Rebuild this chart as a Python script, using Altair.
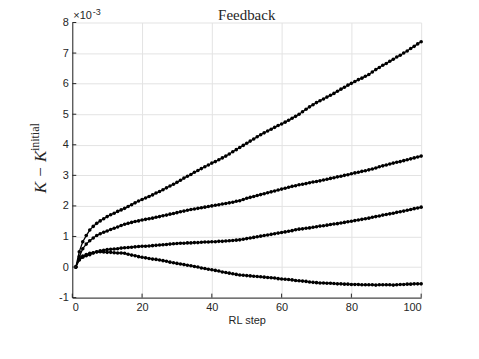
import altair as alt
import pandas as pd

steps = list(range(1, 101))

curve_a = [0.00, 0.50, 0.83, 1.03, 1.21, 1.33, 1.43, 1.51, 1.58, 1.65,
           1.71, 1.76, 1.82, 1.87, 1.92, 1.98, 2.04, 2.10, 2.16, 2.21,
           2.26, 2.31, 2.36, 2.42, 2.47, 2.53, 2.59, 2.65, 2.71, 2.77,
           2.84, 2.91, 2.97, 3.03, 3.10, 3.16, 3.22, 3.28, 3.34, 3.40,
           3.45, 3.51, 3.57, 3.63, 3.70, 3.77, 3.84, 3.91, 3.98, 4.05,
           4.12, 4.19, 4.26, 4.33, 4.39, 4.45, 4.51, 4.57, 4.63, 4.68,
           4.74, 4.80, 4.87, 4.93, 5.00, 5.08, 5.16, 5.24, 5.31, 5.38,
           5.44, 5.50, 5.56, 5.62, 5.68, 5.75, 5.82, 5.88, 5.95, 6.01,
           6.07, 6.13, 6.18, 6.24, 6.30, 6.38, 6.46, 6.53, 6.60, 6.66,
           6.73, 6.80, 6.87, 6.93, 7.00, 7.07, 7.15, 7.22, 7.30, 7.37]

curve_b = [0.00, 0.34, 0.60, 0.75, 0.86, 0.95, 1.03, 1.09, 1.14, 1.18,
           1.23, 1.27, 1.31, 1.36, 1.40, 1.43, 1.46, 1.49, 1.51, 1.54,
           1.56, 1.58, 1.60, 1.63, 1.65, 1.68, 1.70, 1.73, 1.75, 1.78,
           1.81, 1.83, 1.86, 1.88, 1.90, 1.92, 1.94, 1.96, 1.98, 2.00,
           2.02, 2.04, 2.06, 2.08, 2.10, 2.12, 2.15, 2.17, 2.21, 2.25,
           2.28, 2.31, 2.34, 2.37, 2.40, 2.43, 2.46, 2.49, 2.52, 2.55,
           2.58, 2.61, 2.64, 2.66, 2.69, 2.71, 2.73, 2.76, 2.78, 2.80,
           2.82, 2.85, 2.87, 2.90, 2.92, 2.95, 2.97, 3.00, 3.02, 3.05,
           3.08, 3.10, 3.13, 3.15, 3.18, 3.21, 3.24, 3.28, 3.31, 3.34,
           3.37, 3.40, 3.43, 3.45, 3.48, 3.51, 3.54, 3.57, 3.60, 3.63]

curve_c = [0.00, 0.23, 0.32, 0.37, 0.40, 0.46, 0.50, 0.53, 0.55, 0.57,
           0.58, 0.59, 0.60, 0.62, 0.63, 0.64, 0.65, 0.66, 0.67, 0.68,
           0.68, 0.69, 0.70, 0.71, 0.72, 0.73, 0.74, 0.75, 0.76, 0.77,
           0.78, 0.78, 0.79, 0.79, 0.80, 0.80, 0.81, 0.82, 0.82, 0.83,
           0.83, 0.84, 0.84, 0.85, 0.86, 0.87, 0.88, 0.89, 0.91, 0.93,
           0.95, 0.97, 0.99, 1.01, 1.03, 1.05, 1.07, 1.09, 1.11, 1.13,
           1.15, 1.17, 1.19, 1.22, 1.24, 1.25, 1.27, 1.28, 1.30, 1.32,
           1.34, 1.35, 1.37, 1.39, 1.41, 1.42, 1.44, 1.46, 1.48, 1.50,
           1.52, 1.54, 1.56, 1.58, 1.60, 1.63, 1.65, 1.67, 1.70, 1.72,
           1.74, 1.76, 1.79, 1.81, 1.83, 1.86, 1.88, 1.91, 1.93, 1.96]

curve_d = [0.00, 0.25, 0.36, 0.41, 0.45, 0.47, 0.49, 0.50, 0.49, 0.48,
           0.48, 0.47, 0.46, 0.46, 0.45, 0.42, 0.39, 0.37, 0.34, 0.32,
           0.30, 0.28, 0.26, 0.25, 0.23, 0.21, 0.19, 0.16, 0.14, 0.12,
           0.10, 0.08, 0.06, 0.04, 0.02, 0.00, -0.03, -0.05, -0.07, -0.09,
           -0.11, -0.13, -0.16, -0.18, -0.20, -0.22, -0.24, -0.26, -0.27, -0.28,
           -0.29, -0.30, -0.31, -0.32, -0.33, -0.34, -0.35, -0.36, -0.38, -0.39,
           -0.40, -0.41, -0.42, -0.44, -0.45, -0.46, -0.47, -0.49, -0.50, -0.51,
           -0.52, -0.52, -0.53, -0.53, -0.54, -0.55, -0.55, -0.56, -0.56, -0.57,
           -0.57, -0.57, -0.58, -0.58, -0.58, -0.58, -0.59, -0.58, -0.58, -0.58,
           -0.58, -0.59, -0.58, -0.57, -0.57, -0.56, -0.56, -0.55, -0.55, -0.55]

x_ticks = [0, 20, 40, 60, 80, 100]
y_ticks = [-1, 0, 1, 2, 3, 4, 5, 6, 7, 8]

series = {"A": curve_a, "B": curve_b, "C": curve_c, "D": curve_d}
rows = []
for name, vals in series.items():
    for s, v in zip(steps, vals):
        rows.append({"series": name, "step": s, "value": v})
df = pd.DataFrame(rows)

W, H = 350, 276
xs = alt.Scale(domain=[0, 100], nice=False, zero=False)
ys = alt.Scale(domain=[-1, 8], nice=False, zero=False)
x_enc = alt.X("step:Q", scale=xs, axis=alt.Axis(values=x_ticks, title="RL step", grid=True,
                                                 labelPadding=4, titlePadding=2))
y_enc = alt.Y("value:Q", scale=ys, axis=alt.Axis(values=y_ticks, title=None, grid=True,
                                                  labelPadding=4,
                                                  labelExpr="replace(datum.label, '−', '-')"))

lines = alt.Chart(df).mark_line(
    color="black", strokeWidth=1.3,
    point=alt.OverlayMarkDef(filled=True, size=13, color="black", opacity=1),
).encode(x=x_enc, y=y_enc, detail="series:N")

xt = alt.Chart(pd.DataFrame({"step": x_ticks})).mark_rule(color="#262626", strokeWidth=1).encode(
    x=x_enc, y=alt.value(H), y2=alt.value(H - 4))
yt = alt.Chart(pd.DataFrame({"value": y_ticks})).mark_rule(color="#262626", strokeWidth=1).encode(
    y=y_enc, x=alt.value(0), x2=alt.value(4))

ylab = alt.Chart(pd.DataFrame({"t": ["K − K"]})).mark_text(
    font="Liberation Serif", fontStyle="italic", fontSize=17, angle=270, color="#262626"
).encode(text="t:N", x=alt.value(-31), y=alt.value(150))
ysup = alt.Chart(pd.DataFrame({"t": ["initial"]})).mark_text(
    font="Liberation Serif", fontSize=12, angle=270, color="#262626"
).encode(text="t:N", x=alt.value(-37), y=alt.value(115))
expo = alt.Chart(pd.DataFrame({"t": ["×10"]})).mark_text(
    font="Liberation Sans", fontSize=11, align="left", color="#262626"
).encode(text="t:N", x=alt.value(1), y=alt.value(-7))
expo2 = alt.Chart(pd.DataFrame({"t": ["-3"]})).mark_text(
    font="Liberation Sans", fontSize=9, align="left", color="#262626"
).encode(text="t:N", x=alt.value(20.5), y=alt.value(-11))
ttl = alt.Chart(pd.DataFrame({"t": ["Feedback"]})).mark_text(
    font="Liberation Serif", fontSize=15, align="center", baseline="alphabetic", color="#262626"
).encode(text="t:N", x=alt.value(W / 2), y=alt.value(-2.5))

chart = alt.layer(lines, xt, yt, ylab, ysup, expo, expo2, ttl).properties(
    width=W, height=H,
    autosize=alt.AutoSizeParams(type="none"),
    padding={"left": 64.5, "top": 14, "right": 50, "bottom": 50},
).configure_view(stroke=None).configure_axis(
    domainColor="#262626", domainWidth=1, tickSize=0, gridColor="#e3e3e3", gridWidth=1,
    labelFont="Liberation Sans", labelFontSize=11, labelColor="#262626",
    titleFont="Liberation Sans", titleFontSize=11, titleColor="#262626", titleFontWeight="normal",
)

chart.save("out.html", embed_options={"renderer": "svg", "actions": False})
